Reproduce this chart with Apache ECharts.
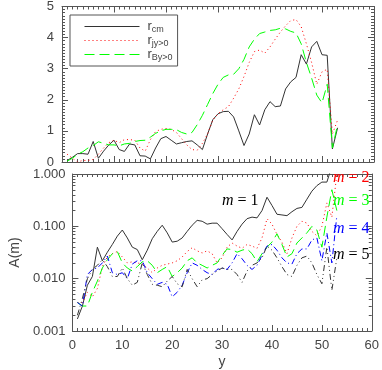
<!DOCTYPE html>
<html>
<head>
<meta charset="utf-8">
<script src="https://cdn.jsdelivr.net/npm/echarts@6/dist/echarts.min.js"></script>
<style>
  html, body { margin: 0; padding: 0; background: #fff; }
  #chart { width: 382px; height: 370px; }
</style>
</head>
<body>
<div id="chart"></div>
<script>
// sample positions along y
const yPos = [1, 2, 3, 4, 5, 6, 7, 8, 9, 10, 11, 12, 13, 14, 15, 16, 17, 18, 19, 20,
  21, 22, 23, 24, 25, 26, 27, 28, 29, 30, 31, 32, 33, 34, 35, 36, 37, 38, 39, 40,
  41, 42, 43, 44, 45, 46, 47, 48, 49, 50, 51, 52, 53];

// upper panel
const rCm = [0.05, 0.15, 0.27, 0.27, 0.25, 0.66, 0.12, 0.35, 0.55, 0.70,
  0.40, 0.34, 0.58, 0.55, 0.20, 0.19, 0.10, 0.45, 0.75, 0.82,
  0.70, 0.58, 0.62, 0.66, 0.68, 0.55, 0.40, 0.90, 1.36, 1.55,
  1.62, 1.63, 1.45, 1.00, 0.53, 0.90, 1.52, 1.19, 1.68, 1.94,
  1.78, 1.80, 2.35, 2.58, 2.72, 3.45, 3.15, 3.70, 3.88, 3.45,
  3.43, 0.42, 1.10];
const rJy = [0.25, 0.12, 0.00, 0.05, 0.05, 0.08, 0.25, 0.45, 0.62, 0.70,
  0.62, 0.72, 0.72, 0.70, 0.45, 0.35, 0.72, 0.98, 1.05, 1.08,
  1.05, 0.95, 0.75, 0.55, 0.40, 0.38, 0.60, 0.90, 1.35, 1.55,
  1.68, 1.78, 2.05, 2.35, 2.75, 3.20, 3.55, 3.60, 3.50, 3.70,
  3.95, 4.18, 4.38, 4.55, 4.58, 4.35, 3.80, 3.20, 2.50, 2.90,
  2.98, 0.90, 1.35];
const rBy = [0.03, 0.12, 0.25, 0.33, 0.45, 0.53, 0.65, 0.60, 0.55, 0.55,
  0.52, 0.58, 0.60, 0.66, 0.69, 0.70, 0.80, 0.92, 1.00, 1.05,
  1.05, 1.04, 0.95, 0.90, 0.95, 1.20, 1.50, 1.85, 2.20, 2.50,
  2.72, 2.80, 2.82, 3.00, 3.30, 3.70, 3.95, 4.13, 4.18, 4.23,
  4.25, 4.30, 4.28, 4.20, 4.15, 3.80, 3.20, 2.70, 2.15, 1.90,
  2.50, 0.45, 1.20];

// lower panel, A(m)
const am1 = [0.0017, 0.0030, 0.0075, 0.011, 0.040, 0.022, 0.032, 0.045, 0.065, 0.085,
  0.060, 0.040, 0.036, 0.023, 0.035, 0.058, 0.080, 0.105, 0.075, 0.050,
  0.052, 0.060, 0.080, 0.105, 0.130, 0.125, 0.110, 0.115, 0.115, 0.090,
  0.070, 0.055, 0.080, 0.110, 0.140, 0.150, 0.145, 0.200, 0.360, 0.250,
  0.170, 0.165, 0.160, 0.190, 0.220, 0.230, 0.330, 0.470, 0.600, 0.700,
  0.700, 1.400, 2.000];
const am2 = [0.0035, 0.0035, 0.0055, 0.0045, 0.0065, 0.017, 0.026, 0.030, 0.033, 0.026,
  0.020, 0.021, 0.020, 0.019, 0.016, 0.013, 0.016, 0.018, 0.019, 0.020,
  0.022, 0.026, 0.033, 0.039, 0.034, 0.031, 0.034, 0.030, 0.020, 0.025,
  0.040, 0.048, 0.042, 0.038, 0.045, 0.042, 0.038, 0.060, 0.140, 0.110,
  0.070, 0.050, 0.030, 0.060, 0.100, 0.125, 0.115, 0.080, 0.066, 0.100,
  0.280, 0.150, 1.000];
const am3 = [0.0035, 0.0030, 0.0030, 0.0055, 0.0090, 0.016, 0.023, 0.030, 0.033, 0.020,
  0.016, 0.014, 0.017, 0.021, 0.022, 0.018, 0.013, 0.015, 0.017, 0.011,
  0.013, 0.016, 0.022, 0.025, 0.020, 0.018, 0.016, 0.018, 0.020, 0.028,
  0.037, 0.036, 0.032, 0.035, 0.037, 0.030, 0.021, 0.030, 0.040, 0.050,
  0.072, 0.045, 0.026, 0.030, 0.048, 0.060, 0.075, 0.100, 0.085, 0.040,
  0.150, 0.500, 0.200];
const am4 = [0.0035, 0.0030, 0.012, 0.015, 0.016, 0.020, 0.027, 0.013, 0.012, 0.013,
  0.010, 0.019, 0.022, 0.022, 0.013, 0.010, 0.0078, 0.0085, 0.0078, 0.0045,
  0.0055, 0.0075, 0.013, 0.020, 0.018, 0.015, 0.013, 0.012, 0.015, 0.016,
  0.015, 0.020, 0.030, 0.024, 0.018, 0.015, 0.018, 0.028, 0.042, 0.045,
  0.035, 0.025, 0.020, 0.019, 0.030, 0.037, 0.037, 0.055, 0.060, 0.022,
  0.075, 0.020, 0.160];
const am5 = [0.0020, 0.0042, 0.010, 0.015, 0.018, 0.023, 0.017, 0.011, 0.011, 0.016,
  0.010, 0.0075, 0.0085, 0.020, 0.012, 0.0078, 0.0075, 0.0070, 0.0090, 0.011,
  0.0080, 0.0070, 0.015, 0.010, 0.0070, 0.0095, 0.010, 0.012, 0.014, 0.016,
  0.015, 0.015, 0.012, 0.0085, 0.014, 0.018, 0.020, 0.025, 0.042, 0.035,
  0.025, 0.017, 0.012, 0.011, 0.018, 0.025, 0.027, 0.020, 0.012, 0.0080,
  0.040, 0.0060, 0.025];

const legendSub = { r_cm: 'cm', r_jy: 'jy>0', r_by: 'By>0' };
const mLabels = ['1', '2', '3', '4', '5'];

const axisColor = '#555';
const textColor = '#444';
const font = 'Liberation Sans, Arial, sans-serif';

// line looks
const styles = {
  r_cm: { color: '#333', type: 'solid' },
  r_jy: { color: '#ff0000', type: [1, 3] },
  r_by: { color: '#00ff00', type: [10, 5] },
  m1: { color: '#333', type: 'solid' },
  m2: { color: '#ff0000', type: [1, 3] },
  m3: { color: '#00ff00', type: [10, 5] },
  m4: { color: '#0000ff', type: [6, 3, 1, 3] },
  m5: { color: '#333', type: [6, 3, 1, 3, 1, 3] }
};

function pairs(vals) {
  return yPos.map((x, i) => [x, vals[i]]);
}

function xAxisOf(grid, pos, labels) {
  return {
    type: 'value', gridIndex: grid, position: pos,
    min: 0, max: 60, interval: 10,
    axisLine: { show: true, onZero: false, lineStyle: { color: axisColor, width: 1 } },
    axisTick: { show: true, inside: true, length: 6, lineStyle: { color: axisColor } },
    minorTick: { show: true, splitNumber: 10, length: 3, lineStyle: { color: axisColor } },
    axisLabel: { show: labels, color: textColor, fontFamily: font, fontSize: 13, margin: 8 },
    splitLine: { show: false }
  };
}

function linAxis(pos, labels) {
  return {
    type: 'value', gridIndex: 0, position: pos,
    min: 0, max: 5, interval: 1,
    axisLine: { show: true, onZero: false, lineStyle: { color: axisColor, width: 1 } },
    axisTick: { show: true, inside: true, length: 6, lineStyle: { color: axisColor } },
    minorTick: { show: true, splitNumber: 10, length: 3, lineStyle: { color: axisColor } },
    axisLabel: { show: labels, color: textColor, fontFamily: font, fontSize: 13, margin: 8 },
    splitLine: { show: false }
  };
}

function logAxis(pos, labels) {
  return {
    type: 'log', logBase: 10, gridIndex: 1, position: pos,
    min: 0.001, max: 1,
    axisLine: { show: true, onZero: false, lineStyle: { color: axisColor, width: 1 } },
    axisTick: { show: true, inside: true, length: 6, lineStyle: { color: axisColor } },
    minorTick: { show: true, splitNumber: 9, length: 3, lineStyle: { color: axisColor } },
    axisLabel: {
      show: labels, color: textColor, fontFamily: font, fontSize: 13, margin: 7,
      formatter: (v) => Number(v).toFixed(3)
    },
    splitLine: { show: false }
  };
}

function lineSeries(name, vals, x, y) {
  const s = styles[name];
  return {
    name: name, type: 'line', xAxisIndex: x, yAxisIndex: y,
    data: pairs(vals), symbol: 'none', smooth: false,
    lineStyle: { color: s.color, width: 1, type: s.type },
    itemStyle: { color: s.color },
    emphasis: { disabled: true }, animation: false
  };
}

function legendItem(name) {
  const s = styles[name];
  return {
    name: name,
    itemStyle: { opacity: 0 },
    lineStyle: { color: s.color, type: s.type, width: 1 }
  };
}

const chart = echarts.init(document.getElementById('chart'), null, { renderer: 'canvas' });

const bottomX = xAxisOf(1, 'bottom', true);
bottomX.name = 'y';
bottomX.nameLocation = 'middle';
bottomX.nameGap = 24;
bottomX.nameTextStyle = { color: textColor, fontFamily: font, fontSize: 14 };

const leftLog = logAxis('left', true);
leftLog.name = 'A(m)';
leftLog.nameLocation = 'middle';
leftLog.nameGap = 46;
leftLog.nameTextStyle = { color: textColor, fontFamily: font, fontSize: 14 };

const mText = (label, color, left, top) => ({
  type: 'text', left: left, top: top, z: 100,
  style: {
    text: '{i|m} = ' + label,
    fill: color, font: '16px "Liberation Serif", serif',
    rich: { i: { fontStyle: 'italic', fontFamily: 'Liberation Serif', fontSize: 16, fill: color } }
  }
});

chart.setOption({
  backgroundColor: '#fff',
  animation: false,
  grid: [
    { left: 62, right: 8, top: 2, height: 160 },
    { left: 62, right: 8, top: 174, height: 158 }
  ],
  legend: {
    data: ['r_cm', 'r_jy', 'r_by'].map(legendItem),
    orient: 'vertical', left: 70, top: 15,
    itemWidth: 55, itemHeight: 10, itemGap: 0,
    padding: [5, 5, 4, 14],
    borderColor: axisColor, borderWidth: 1,
    selectedMode: false,
    formatter: (name) => '{r|r}{s|' + legendSub[name] + '}',
    textStyle: {
      color: textColor, fontFamily: font,
      rich: {
        r: { fontSize: 13, lineHeight: 15, fontFamily: font, color: textColor, padding: [0, 0, 0, 3] },
        s: { fontSize: 9, lineHeight: 7, verticalAlign: 'bottom', fontFamily: font, color: textColor }
      }
    }
  },
  xAxis: [xAxisOf(0, 'bottom', false), xAxisOf(0, 'top', false), bottomX, xAxisOf(1, 'top', false)],
  yAxis: [linAxis('left', true), linAxis('right', false), leftLog, logAxis('right', false)],
  series: [
    lineSeries('r_cm', rCm, 0, 0),
    lineSeries('r_jy', rJy, 0, 0),
    lineSeries('r_by', rBy, 0, 0),
    lineSeries('m1', am1, 2, 2),
    lineSeries('m2', am2, 2, 2),
    lineSeries('m3', am3, 2, 2),
    lineSeries('m4', am4, 2, 2),
    lineSeries('m5', am5, 2, 2)
  ],
  graphic: [
    mText(mLabels[0], '#000', 222, 193),
    mText(mLabels[1], '#ff0000', 333, 170),
    mText(mLabels[2], '#00ff00', 333, 193),
    mText(mLabels[3], '#0000ff', 333, 221),
    mText(mLabels[4], '#000', 333, 247)
  ]
});
</script>
</body>
</html>
